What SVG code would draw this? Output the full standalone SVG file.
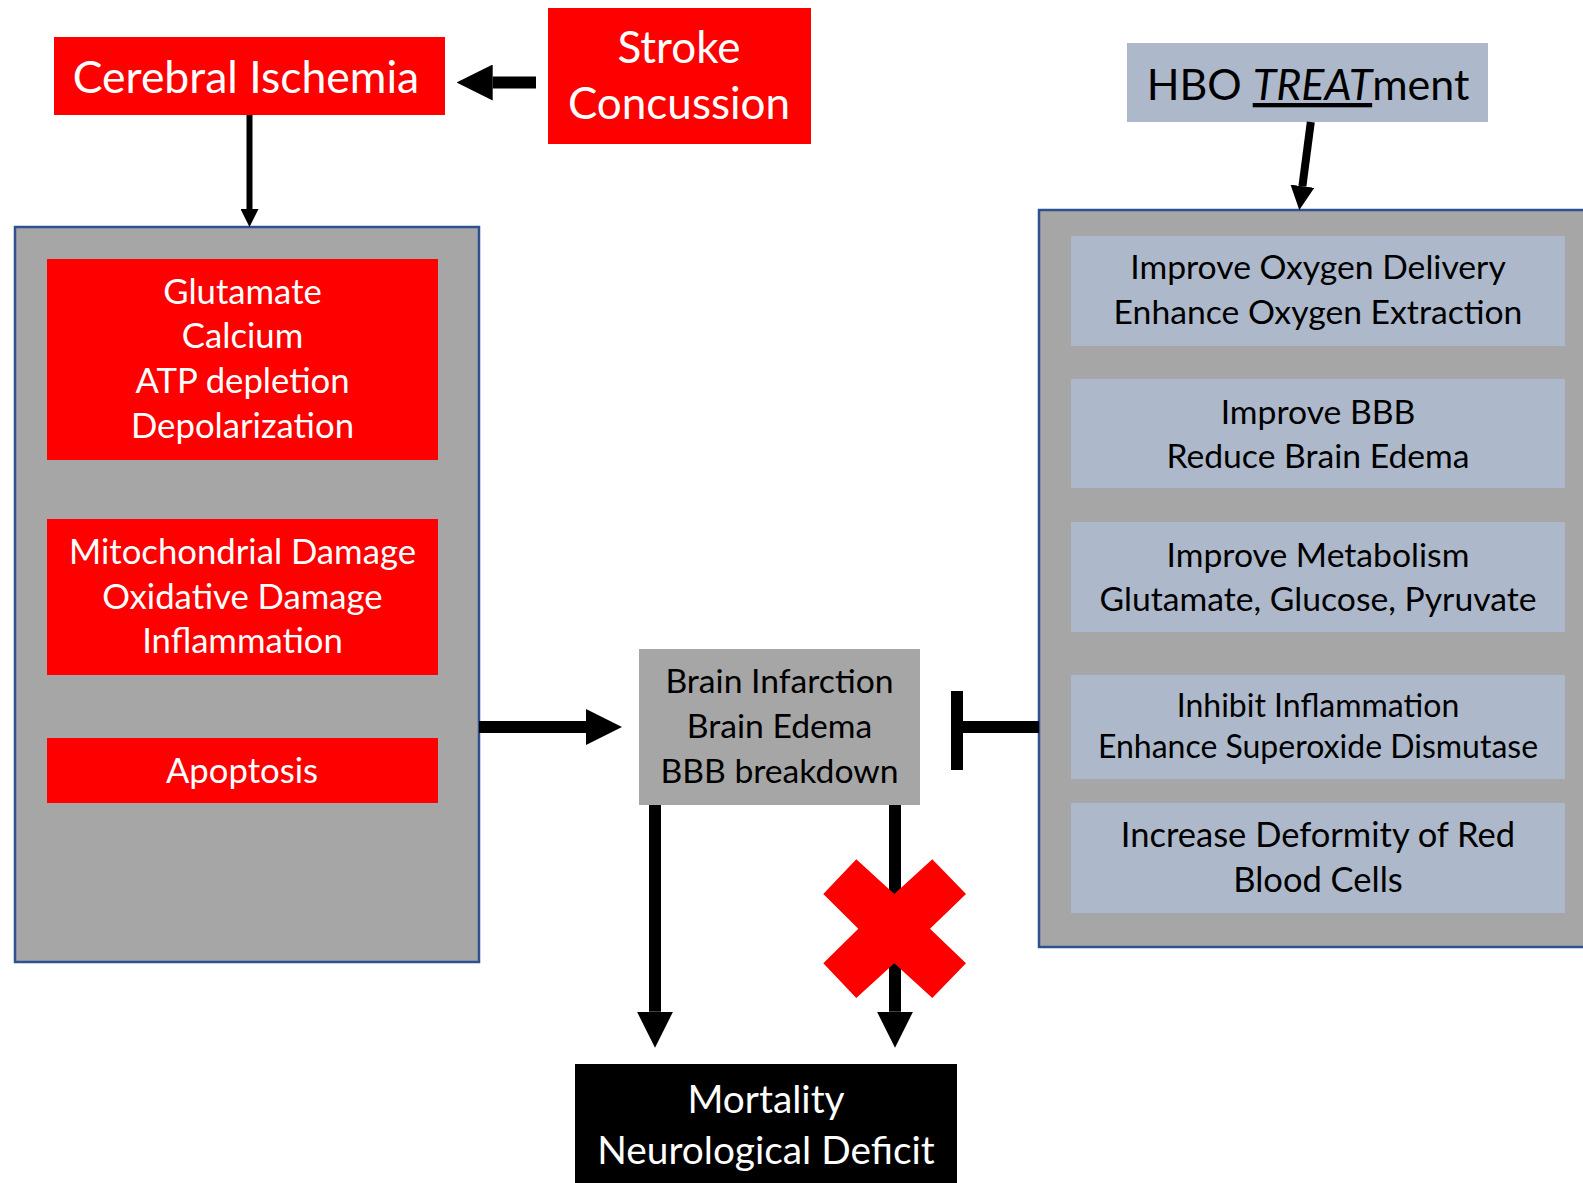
<svg xmlns="http://www.w3.org/2000/svg" width="1583" height="1183" viewBox="0 0 1583 1183">
<style>
text{font-family:Lato,"Open Sans","Liberation Sans",sans-serif;text-anchor:middle}
.red{fill:#FF0000}
.grey{fill:#A6A6A6}
.blue{fill:#ADB9CA}
.cont{fill:#A6A6A6;stroke:#2F528F;stroke-width:2.5}
.w{fill:#FFFFFF}
.k{fill:#000000}
.big{font-size:44.5px}
.hbo{font-size:43px}
.mid{font-size:34.7px}
.sm{font-size:33.7px}
.sm2{font-size:32px}
.sm3{font-size:34.5px}
.mort{font-size:38.8px}
.conn{stroke:#000;fill:none}
</style>
<defs>
<marker id="ah" viewBox="0 0 3 3" refX="0" refY="1.5" markerWidth="3" markerHeight="3" markerUnits="strokeWidth" orient="auto">
<path d="M0,0 L3,1.5 L0,3 Z" fill="#000"/>
</marker>
</defs>
<rect width="1583" height="1183" fill="#FFFFFF"/>

<g id="left-container"><rect class="cont" x="15" y="227" width="464" height="735"/></g>
<g id="right-container"><rect class="cont" x="1039" y="210" width="570" height="737"/></g>

<g id="cerebral-ischemia">
<rect class="red" x="54" y="37" width="391" height="78"/>
<text class="big w" x="246" y="93">Cerebral Ischemia</text>
</g>
<g id="stroke-concussion">
<rect class="red" x="548" y="8" width="263" height="136"/>
<text class="w" font-size="44" x="679" y="63.3">Stroke</text>
<text class="w" font-size="44" x="679" y="119.3">Concussion</text>
</g>
<g id="hbo-treatment">
<rect class="blue" x="1127" y="43" width="361" height="79"/>
<text class="hbo k" x="1308" y="100">HBO <tspan font-style="italic" text-decoration="underline">TREAT</tspan>ment</text>
</g>

<g id="glutamate">
<rect class="red" x="47" y="259" width="391" height="201"/>
<text class="mid w" x="242.5" y="304">Glutamate</text>
<text class="mid w" x="242.5" y="348.3">Calcium</text>
<text class="mid w" x="242.5" y="393.3">ATP depletion</text>
<text class="mid w" x="242.5" y="437.7">Depolarization</text>
</g>
<g id="mitochondrial">
<rect class="red" x="47" y="519" width="391" height="156"/>
<text class="mid w" x="242.5" y="564.3">Mitochondrial Damage</text>
<text class="mid w" x="242.5" y="609">Oxidative Damage</text>
<text class="mid w" x="242.5" y="653.3">Inflammation</text>
</g>
<g id="apoptosis">
<rect class="red" x="47" y="738" width="391" height="65"/>
<text class="mid w" x="242" y="782.7">Apoptosis</text>
</g>

<g id="oxygen">
<rect class="blue" x="1071" y="236" width="494" height="110"/>
<text class="sm k" x="1318" y="279.3">Improve Oxygen Delivery</text>
<text class="sm k" x="1318" y="324.3">Enhance Oxygen Extraction</text>
</g>
<g id="bbb">
<rect class="blue" x="1071" y="379" width="494" height="109"/>
<text class="sm k" x="1318" y="424">Improve BBB</text>
<text class="sm k" x="1318" y="468.3">Reduce Brain Edema</text>
</g>
<g id="metabolism">
<rect class="blue" x="1071" y="522" width="494" height="110"/>
<text class="sm k" x="1318" y="566.7">Improve Metabolism</text>
<text class="sm k" x="1318" y="611">Glutamate, Glucose, Pyruvate</text>
</g>
<g id="inflammation">
<rect class="blue" x="1071" y="675" width="494" height="104"/>
<text class="sm2 k" x="1318" y="716.7">Inhibit Inflammation</text>
<text class="sm2 k" x="1318" y="758.3">Enhance Superoxide Dismutase</text>
</g>
<g id="rbc">
<rect class="blue" x="1071" y="803" width="494" height="110"/>
<text class="sm3 k" x="1318" y="847.3">Increase Deformity of Red</text>
<text class="sm3 k" x="1318" y="891.7">Blood Cells</text>
</g>

<g id="brain">
<rect class="grey" x="639" y="649" width="281" height="156"/>
<text class="sm k" x="779.5" y="693.3">Brain Infarction</text>
<text class="sm k" x="779.5" y="738.3">Brain Edema</text>
<text class="sm k" x="779.5" y="782.7">BBB breakdown</text>
</g>

<g id="mortality">
<rect x="575" y="1064" width="382" height="119" fill="#000"/>
<text class="mort w" x="766" y="1113.3">Mortality</text>
<text class="mort w" x="766" y="1164.3">Neurological Deficit</text>
</g>

<g id="connectors">
<line class="conn" x1="536" y1="82.5" x2="492.7" y2="82.5" stroke-width="12" marker-end="url(#ah)"/>
<line class="conn" x1="249.5" y1="115" x2="249.5" y2="209" stroke-width="6" marker-end="url(#ah)"/>
<line class="conn" x1="1310.8" y1="122" x2="1302.4" y2="186.2" stroke-width="8" marker-end="url(#ah)"/>
<line class="conn" x1="479" y1="727" x2="586" y2="727" stroke-width="12" marker-end="url(#ah)"/>
<line class="conn" x1="655" y1="805" x2="655" y2="1011.7" stroke-width="12" marker-end="url(#ah)"/>
<line class="conn" x1="895" y1="805" x2="895" y2="1011.7" stroke-width="12" marker-end="url(#ah)"/>
<line class="conn" x1="963" y1="727" x2="1039" y2="727" stroke-width="12"/>
<rect x="951" y="691" width="12" height="79" fill="#000"/>
</g>

<g id="red-x">
<polygon class="red" points="856.3,859.3 894.3,894 932.3,859.3 966,894 930,928.7 966,963.3 932.3,998 894.3,963.3 856.3,998 823.3,963.3 858.3,928.7 823.3,894"/>
</g>
</svg>
